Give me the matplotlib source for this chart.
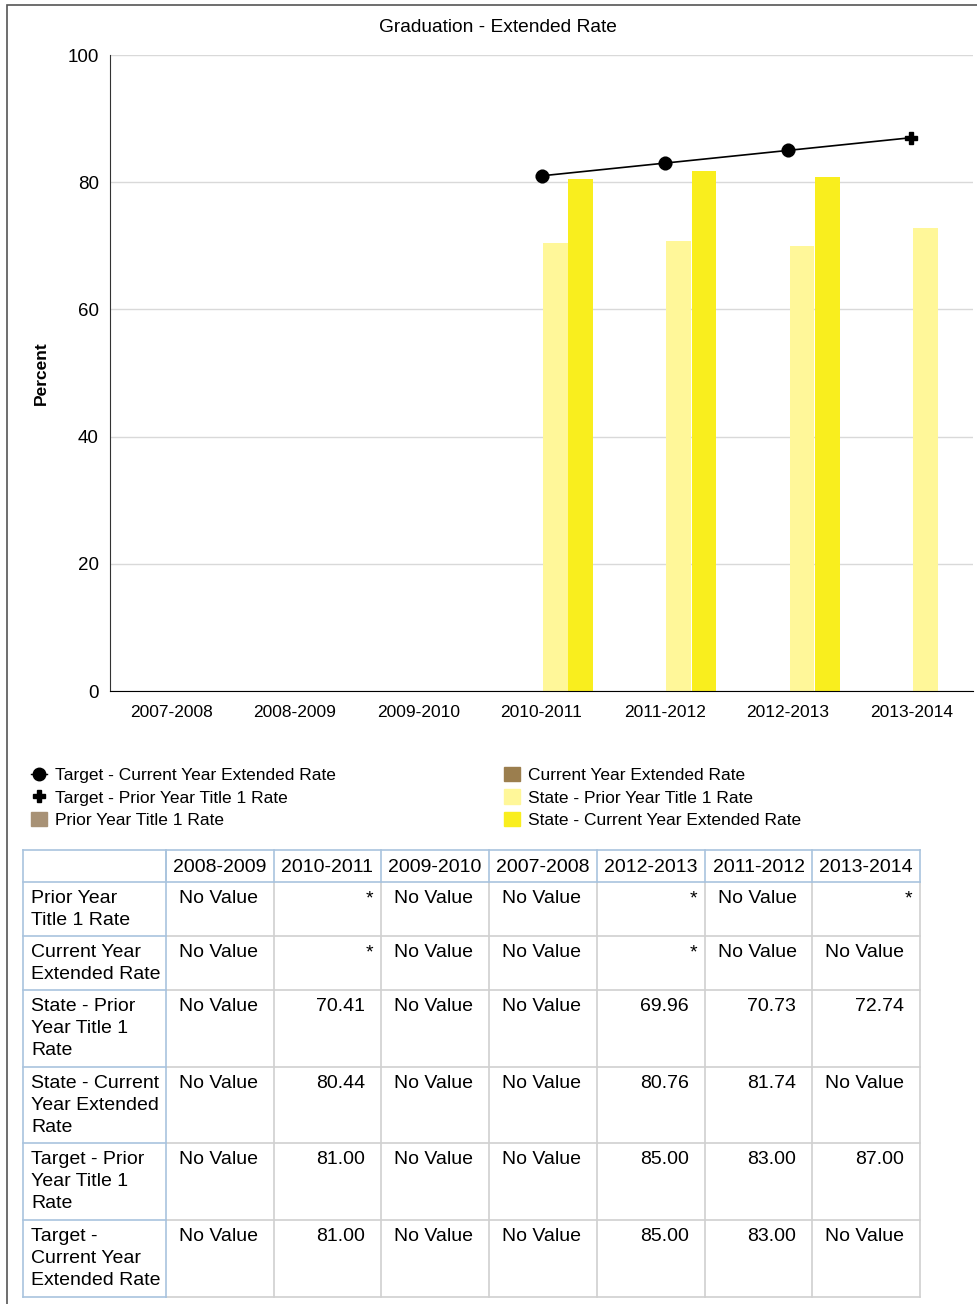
import numpy as np
import matplotlib
matplotlib.use("Agg")
import matplotlib.pyplot as plt
from matplotlib.lines import Line2D
from matplotlib.patches import Patch, Rectangle

plt.rcParams['font.family'] = ['Liberation Sans', 'DejaVu Sans']

years = ['2007-2008', '2008-2009', '2009-2010', '2010-2011', '2011-2012', '2012-2013', '2013-2014']
nan = np.nan
prior_t1 = [nan] * 7
current_ext = [nan] * 7
state_prior = [nan, nan, nan, 70.41, 70.73, 69.96, 72.74]
state_current = [nan, nan, nan, 80.44, 81.74, 80.76, nan]
target_prior = [nan, nan, nan, 81.00, 83.00, 85.00, 87.00]
target_current = [nan, nan, nan, 81.00, 83.00, 85.00, nan]
# suppressed values shown as "*" in the table
prior_t1_supp = [False, False, False, True, False, True, True]
current_ext_supp = [False, False, False, True, False, True, False]

table_years = ['2008-2009', '2010-2011', '2009-2010', '2007-2008', '2012-2013', '2011-2012', '2013-2014']
row_labels = ['Prior Year\nTitle 1 Rate', 'Current Year\nExtended Rate',
              'State - Prior\nYear Title 1\nRate', 'State - Current\nYear Extended\nRate',
              'Target - Prior\nYear Title 1\nRate', 'Target -\nCurrent Year\nExtended Rate']

c_prior = '#a89276'
c_current = '#9b7e4e'
c_sprior = '#fff799'
c_scurrent = '#f9ee1e'

W, H = 977, 1304
fig = plt.figure(figsize=(W / 100, H / 100), dpi=100)

# outer frame
fig.patches.append(Rectangle((7 / W, -0.01), 1.0, 1 - 5 / H + 0.01, transform=fig.transFigure,
                             fill=False, edgecolor='#555555', linewidth=1.2))

ax = fig.add_axes([110 / W, 1 - 691 / H, (973 - 110) / W, (691 - 55) / H])
x = np.arange(len(years))
bw = 0.205
ax.bar(x - 1.5 * bw, prior_t1, bw * 0.98, color=c_prior)
ax.bar(x - 0.5 * bw, current_ext, bw * 0.98, color=c_current)
ax.bar(x + 0.5 * bw + 0.01, state_prior, bw * 0.98, color=c_sprior)
ax.bar(x + 1.5 * bw + 0.01, state_current, bw * 0.98, color=c_scurrent)

tp = np.array(target_prior)
m = ~np.isnan(tp)
ax.plot(x[m], tp[m], color='black', linewidth=1.2, marker='P', markersize=8, zorder=4)
ax.plot(x, target_current, linestyle='none', marker='o', color='black', markersize=9, zorder=5)

ax.set_xlim(-0.5, len(years) - 0.5)
ax.set_ylim(0, 100)
ax.set_yticks([0, 20, 40, 60, 80, 100])
ax.set_xticks(x)
ax.set_xticklabels(years)
ax.tick_params(axis='x', length=0, labelsize=12.5, pad=10)
ax.tick_params(axis='y', length=0, labelsize=13.5, pad=8)
ax.yaxis.grid(True, color='#d9d9d9', linewidth=1)
ax.set_axisbelow(True)
for s in ['top', 'right']:
    ax.spines[s].set_visible(False)
ax.spines['left'].set_color('#333333')
ax.spines['left'].set_linewidth(0.8)
ax.spines['bottom'].set_color('black')
ax.set_ylabel('Percent', fontsize=12.5, fontweight='bold')
ax.yaxis.set_label_coords((49 - 110) / 863, 0.5)

fig.text(498 / W, 1 - 27 / H, 'Graduation - Extended Rate', ha='center', va='center', fontsize=13.8)

# legend, two columns
h_left = [Line2D([], [], marker='o', color='black', linestyle='-', markersize=9, linewidth=1),
          Line2D([], [], marker='P', color='black', linestyle='none', markersize=9),
          Patch(color=c_prior)]
l_left = ['Target - Current Year Extended Rate', 'Target - Prior Year Title 1 Rate', 'Prior Year Title 1 Rate']
h_right = [Patch(color=c_current), Patch(color=c_sprior), Patch(color=c_scurrent)]
l_right = ['Current Year Extended Rate', 'State - Prior Year Title 1 Rate', 'State - Current Year Extended Rate']
leg_kw = dict(frameon=False, fontsize=12.5, handlelength=0.9, handleheight=0.9, handletextpad=0.5,
              labelspacing=0.36, borderpad=0, borderaxespad=0, loc='upper left')
fig.legend(h_left, l_left, bbox_to_anchor=(31 / W, 1 - 767 / H), **leg_kw)
fig.legend(h_right, l_right, bbox_to_anchor=(504 / W, 1 - 767 / H), **leg_kw)

# data table
def cell_text(vals, supp, j):
    if supp is not None and supp[j]:
        return '*'
    v = vals[j]
    if np.isnan(v):
        return 'No Value'
    return f'{v:.2f}'

series_rows = [(prior_t1, prior_t1_supp), (current_ext, current_ext_supp),
               (state_prior, None), (state_current, None),
               (target_prior, None), (target_current, None)]

ta = fig.add_axes([0, 0, 1, 1])
ta.set_xlim(0, W)
ta.set_ylim(H, 0)
ta.axis('off')

col_edges = [23, 166, 274, 381, 489, 597, 705, 812, 920]
row_edges = [850, 882, 936, 990, 1067, 1143, 1220, 1297]
grid_c = '#d0d0d0'
blue_c = '#a9c4de'
fs = 14

for xe in col_edges[2:]:
    ta.plot([xe, xe], [row_edges[1], row_edges[-1]], color=grid_c, linewidth=1.2)
for ye in row_edges[2:-1]:
    ta.plot([col_edges[1], col_edges[-1]], [ye, ye], color=grid_c, linewidth=1.2)
ta.plot([col_edges[1], col_edges[-1]], [row_edges[-1], row_edges[-1]], color=grid_c, linewidth=1.2)
ta.plot([col_edges[-1], col_edges[-1]], [row_edges[0], row_edges[1]], color=blue_c, linewidth=1.2)
for xe in col_edges[1:-1]:
    ta.plot([xe, xe], [row_edges[0], row_edges[1]], color=blue_c, linewidth=1.2)
ta.plot([col_edges[0], col_edges[-1]], [row_edges[0], row_edges[0]], color=blue_c, linewidth=1.2)
ta.plot([col_edges[0], col_edges[-1]], [row_edges[1], row_edges[1]], color=blue_c, linewidth=1.2)
for ye in row_edges[2:]:
    ta.plot([col_edges[0], col_edges[1]], [ye, ye], color=blue_c, linewidth=1.2)
ta.plot([col_edges[0], col_edges[0]], [row_edges[0], row_edges[-1]], color=blue_c, linewidth=1.2)
ta.plot([col_edges[1], col_edges[1]], [row_edges[0], row_edges[-1]], color=blue_c, linewidth=1.2)

for j, yr in enumerate(table_years):
    ta.text((col_edges[j + 1] + col_edges[j + 2]) / 2, (row_edges[0] + row_edges[1]) / 2 + 1, yr,
            ha='center', va='center', fontsize=fs)

for i, lab in enumerate(row_labels):
    top = row_edges[i + 1] + 8
    ta.text(31, top, lab, ha='left', va='top', fontsize=fs, linespacing=1.38)
    vals, supp = series_rows[i]
    for j, yr in enumerate(table_years):
        k = years.index(yr)
        s = cell_text(vals, supp, k)
        if s == 'No Value':
            ta.text(col_edges[j + 1] + 13, top, s, ha='left', va='top', fontsize=fs)
        else:
            ta.text(col_edges[j + 2] - 8 if s == '*' else col_edges[j + 2] - 16, top, s,
                    ha='right', va='top', fontsize=fs)

fig.savefig('out.png', dpi=100)
